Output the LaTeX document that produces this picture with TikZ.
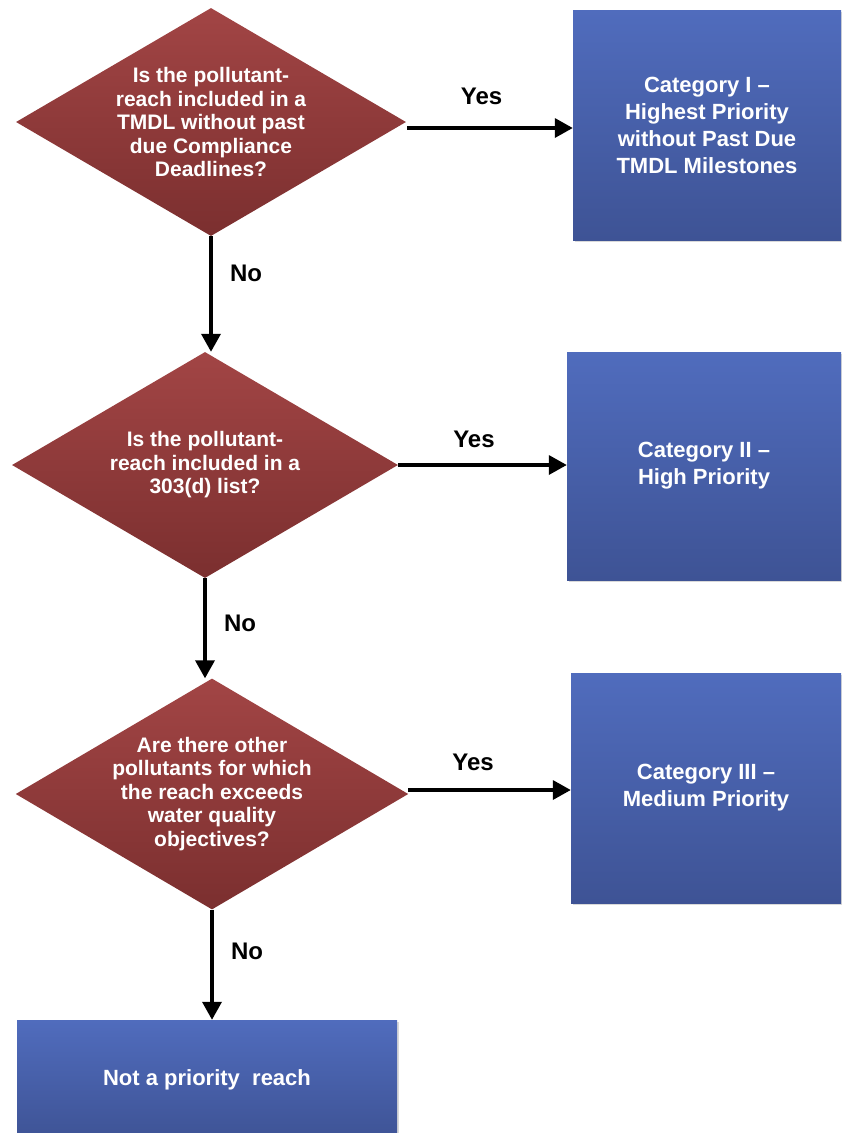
\documentclass[tikz,border=0pt]{standalone}
\usepackage{fontspec}
\setmainfont{Liberation Sans}
\usetikzlibrary{shapes.geometric, arrows.meta, shadows}

\definecolor{qTop}{HTML}{A24545}
\definecolor{qBottom}{HTML}{7B2F2F}
\definecolor{catTop}{HTML}{506CBD}
\definecolor{catBottom}{HTML}{3E5395}
\tikzset{
	question/.style={diamond, aspect=1.7, shading=axis, top color=qTop, bottom color=qBottom, shading angle=0,
		minimum width=390pt, minimum height=228pt, inner sep=0pt, text=white, font=\bfseries\fontsize{21}{23.5}\selectfont,
		align=center},
	category/.style={rectangle, shading=axis, top color=catTop, bottom color=catBottom, shading angle=0,
		drop shadow={opacity=0.3, shadow xshift=2pt, shadow yshift=-2pt},
		text=white, font=\bfseries\fontsize{22}{27}\selectfont, align=center},
	flow/.style={-{Triangle[length=18pt, width=19pt]}, line width=3.5pt},
	answer/.style={font=\bfseries\fontsize{24}{28}\selectfont}
}

\begin{document}
\begin{tikzpicture}[x=1pt, y=-1pt, line cap=butt, line join=miter]
	\useasboundingbox (0,0) rectangle (842,1133);
	% questions
	\node[question] (q1) at (211,122) {Is the pollutant-\\reach included in a\\TMDL without past\\due Compliance\\Deadlines?};
	\node[question, minimum width=386pt, minimum height=226pt] (q2) at (205,465) {Is the pollutant-\\reach included in a\\303(d) list?};
	\node[question] (q3) at (212,794) {Are there other\\pollutants for which\\the reach exceeds\\water quality\\objectives?};
	% categories
	\node[category, minimum width=268pt, minimum height=230pt] (c1) at (707,125) {Category I --\\Highest Priority\\without Past Due\\TMDL Milestones};
	\node[category, minimum width=274pt, minimum height=228pt] (c2) at (704,466) {Category II --\\High Priority};
	\node[category, minimum width=270pt, minimum height=230pt] (c3) at (706,788) {Category III --\\Medium Priority};
	\node[category, minimum width=380pt, minimum height=120pt] (c4) at (207,1080) {Not a priority\ \ reach};
	% yes branches
	\coordinate (y1) at (407,128);
	\coordinate (y2) at (398,465);
	\coordinate (y3) at (408,790);
	\draw[flow] (y1) -- (y1 -| c1.west) node[pos=0.45, above=18pt, answer] {Yes};
	\draw[flow] (y2) -- (y2 -| c2.west) node[pos=0.45, above=12pt, answer] {Yes};
	\draw[flow] (y3) -- (y3 -| c3.west) node[pos=0.4, above=14pt, answer] {Yes};
	% no branches
	\draw[flow] (q1.south) -- (q2.north -| q1.south) node[pos=0.32, right=14pt, answer] {No};
	\draw[flow] (q2.south) -- (q3.north -| q2.south) node[pos=0.45, right=14pt, answer] {No};
	\draw[flow] (q3.south) -- (c4.north -| q3.south) node[pos=0.38, right=14pt, answer] {No};
\end{tikzpicture}
\end{document}
